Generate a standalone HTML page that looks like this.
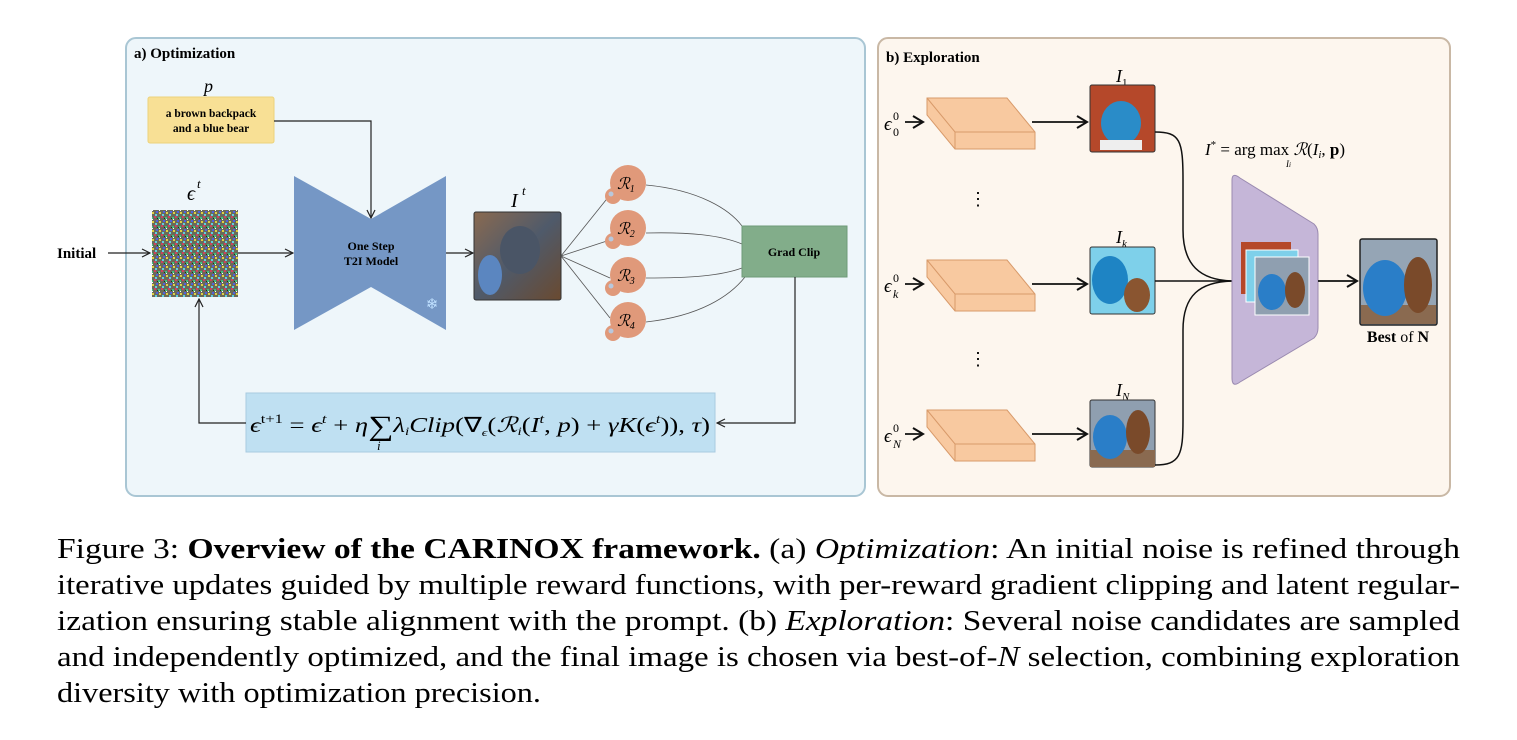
<!DOCTYPE html>
<html><head><meta charset="utf-8"><style>
body{margin:0;background:#fff;}
svg{display:block;}
text{font-family:"Liberation Serif",serif;}
</style></head><body>
<svg width="1517" height="740" viewBox="0 0 1517 740" xmlns="http://www.w3.org/2000/svg">
<defs>
<marker id="ar" markerWidth="10" markerHeight="10" refX="9" refY="5" orient="auto" markerUnits="userSpaceOnUse"><path d="M1,1 L9,5 L1,9" fill="none" stroke="#222" stroke-width="1.2"/></marker>
<marker id="ar2" markerWidth="14" markerHeight="14" refX="12" refY="7" orient="auto" markerUnits="userSpaceOnUse"><path d="M2,1 L12,7 L2,13" fill="none" stroke="#111" stroke-width="2"/></marker>
<pattern id="noise" width="7" height="9" patternUnits="userSpaceOnUse">
<rect width="7" height="9" fill="#6a6a5a"/><rect x="0" y="0" width="2" height="2" fill="#d04060"/><rect x="4" y="1" width="2" height="2" fill="#40c080"/><rect x="2" y="4" width="2" height="2" fill="#5060e0"/><rect x="5" y="5" width="2" height="2" fill="#e0d040"/><rect x="1" y="7" width="2" height="2" fill="#60d0e0"/><rect x="5" y="3" width="1" height="1" fill="#fff"/><rect x="3" y="2" width="1" height="1" fill="#222"/>
</pattern>
<linearGradient id="bear1" x1="0" y1="0" x2="1" y2="1"><stop offset="0" stop-color="#8a6a50"/><stop offset="0.5" stop-color="#4f5a6a"/><stop offset="1" stop-color="#6a4a30"/></linearGradient>
</defs>

<!-- Panel a -->
<rect x="126" y="38" width="739" height="458" rx="10" fill="#eef6fa" stroke="#a9c6d4" stroke-width="2"/>
<text x="134" y="58" font-size="15" font-weight="bold">a) Optimization</text>
<text x="204" y="92" font-size="18" font-style="italic">p</text>
<rect x="148" y="97" width="126" height="46" rx="2" fill="#f8e095" stroke="#ecd27a"/>
<text x="211" y="117" font-size="11.5" font-weight="bold" text-anchor="middle">a brown backpack</text>
<text x="211" y="132" font-size="11.5" font-weight="bold" text-anchor="middle">and a blue bear</text>
<path d="M274,121 H371 V218" fill="none" stroke="#222" stroke-width="1.2" marker-end="url(#ar)"/>
<text x="57" y="258" font-size="15" font-weight="bold">Initial</text>
<path d="M108,253 H150" stroke="#222" stroke-width="1.2" marker-end="url(#ar)"/>
<text x="187" y="200" font-size="20" font-style="italic">ϵ</text><text x="197" y="188" font-size="13" font-style="italic">t</text>
<rect x="152" y="210" width="86" height="87" fill="url(#noise)"/>
<path d="M238,253 H293" stroke="#222" stroke-width="1.2" marker-end="url(#ar)"/>
<path d="M294,176 L371,219 L446,176 L446,330 L371,287 L294,330 Z" fill="#7597c5"/>
<text x="371" y="250" font-size="12" font-weight="bold" text-anchor="middle">One Step</text>
<text x="371" y="265" font-size="12" font-weight="bold" text-anchor="middle">T2I Model</text>
<text x="432" y="309" font-size="15" fill="#bfe0ff" text-anchor="middle">❄</text>
<path d="M446,253 H473" stroke="#222" stroke-width="1.2" marker-end="url(#ar)"/>
<text x="511" y="207" font-size="20" font-style="italic">I</text><text x="522" y="195" font-size="13" font-style="italic">t</text>
<rect x="474" y="212" width="87" height="88" rx="2" fill="url(#bear1)" stroke="#333"/>
<ellipse cx="520" cy="250" rx="20" ry="24" fill="#4a5566"/>
<ellipse cx="490" cy="275" rx="12" ry="20" fill="#5b86c0"/>
<g stroke="#555" stroke-width="0.8" fill="none">
<path d="M561,256 L610,195"/><path d="M561,256 L610,240"/><path d="M561,256 L610,278"/><path d="M561,256 L610,318"/>
<path d="M646,185 C700,190 730,210 742,226"/><path d="M646,233 C690,232 720,235 742,244"/>
<path d="M646,278 C690,278 720,276 742,268"/><path d="M646,322 C700,316 730,296 745,277"/>
</g>
<g fill="#e0997a">
<circle cx="628" cy="183" r="18"/><circle cx="613" cy="196" r="8"/>
<circle cx="628" cy="228" r="18"/><circle cx="613" cy="241" r="8"/>
<circle cx="628" cy="275" r="18"/><circle cx="613" cy="288" r="8"/>
<circle cx="628" cy="320" r="18"/><circle cx="613" cy="333" r="8"/>
</g>
<g fill="#b8c8dd"><circle cx="611" cy="194" r="2.5"/><circle cx="611" cy="239" r="2.5"/><circle cx="611" cy="286" r="2.5"/><circle cx="611" cy="331" r="2.5"/></g>
<g font-size="16" font-style="italic" font-family="DejaVu Serif,serif">
<text x="617" y="189">ℛ<tspan font-size="10" dy="3">1</tspan></text>
<text x="617" y="234">ℛ<tspan font-size="10" dy="3">2</tspan></text>
<text x="617" y="281">ℛ<tspan font-size="10" dy="3">3</tspan></text>
<text x="617" y="326">ℛ<tspan font-size="10" dy="3">4</tspan></text>
</g>
<rect x="742" y="226" width="105" height="51" fill="#82ad8a" stroke="#6f9a78"/>
<text x="794" y="256" font-size="12" font-weight="bold" text-anchor="middle">Grad Clip</text>
<path d="M795,277 V423 H717" fill="none" stroke="#222" stroke-width="1.2" marker-end="url(#ar)"/>
<rect x="246" y="393" width="469" height="59" fill="#bfe0f2" stroke="#a8cbe0"/>
<text x="250" y="432" font-size="21" font-style="italic" textLength="460" lengthAdjust="spacingAndGlyphs">ϵ<tspan font-size="13" dy="-9" font-style="normal">t+1</tspan><tspan dy="9" font-style="normal"> = </tspan>ϵ<tspan font-size="13" dy="-9">t</tspan><tspan dy="9" font-style="normal"> + </tspan>η<tspan font-style="normal" font-size="28" dy="3">∑</tspan><tspan dy="-3">λ</tspan><tspan font-size="12" dy="3">i</tspan><tspan dy="-3">Clip</tspan><tspan font-style="normal">(∇</tspan><tspan font-size="11" dy="4">ϵ</tspan><tspan dy="-4" font-style="normal">(</tspan>ℛ<tspan font-size="12" dy="3">i</tspan><tspan dy="-3" font-style="normal">(</tspan>I<tspan font-size="13" dy="-9">t</tspan><tspan dy="9" font-style="normal">, </tspan>p<tspan font-style="normal">) + </tspan>γK<tspan font-style="normal">(</tspan>ϵ<tspan font-size="13" dy="-9">t</tspan><tspan dy="9" font-style="normal">)), </tspan>τ<tspan font-style="normal">)</tspan></text>
<text x="377" y="450" font-size="13" font-style="italic">i</text>
<path d="M246,423 H199 V299" fill="none" stroke="#222" stroke-width="1.2" marker-end="url(#ar)"/>

<!-- Panel b -->
<rect x="878" y="38" width="572" height="458" rx="10" fill="#fdf6ee" stroke="#c9b8a5" stroke-width="2"/>
<text x="886" y="62" font-size="15" font-weight="bold">b) Exploration</text>
<g fill="#f8c9a0" stroke="#d89a6a" stroke-width="1">
<path d="M927,98 L1007,98 L1035,132 L1035,149 L955,149 L927,115 Z"/><path d="M927,98 L955,132 L1035,132" fill="none"/><path d="M955,132 V149" fill="none"/>
<path d="M927,260 L1007,260 L1035,294 L1035,311 L955,311 L927,277 Z"/><path d="M927,260 L955,294 L1035,294" fill="none"/><path d="M955,294 V311" fill="none"/>
<path d="M927,410 L1007,410 L1035,444 L1035,461 L955,461 L927,427 Z"/><path d="M927,410 L955,444 L1035,444" fill="none"/><path d="M955,444 V461" fill="none"/>
</g>
<g font-size="19" font-style="italic">
<text x="884" y="130">ϵ</text><text x="893" y="120" font-size="12" font-style="normal">0</text><text x="893" y="136" font-size="12" font-style="normal">0</text>
<text x="884" y="292">ϵ</text><text x="893" y="282" font-size="12" font-style="normal">0</text><text x="893" y="298" font-size="12">k</text>
<text x="884" y="442">ϵ</text><text x="893" y="432" font-size="12" font-style="normal">0</text><text x="893" y="448" font-size="12">N</text>
</g>
<g stroke="#111" stroke-width="1.8" fill="none">
<path d="M905,122 H923" marker-end="url(#ar2)"/><path d="M905,284 H923" marker-end="url(#ar2)"/><path d="M905,434 H923" marker-end="url(#ar2)"/>
<path d="M1032,122 H1087" marker-end="url(#ar2)"/><path d="M1032,284 H1087" marker-end="url(#ar2)"/><path d="M1032,434 H1087" marker-end="url(#ar2)"/>
</g>
<text x="978" y="205" font-size="18" text-anchor="middle">⋮</text>
<text x="978" y="365" font-size="18" text-anchor="middle">⋮</text>
<g font-size="18" font-style="italic"><text x="1116" y="82">I<tspan font-size="11" dy="4" font-style="normal">1</tspan></text><text x="1116" y="243">I<tspan font-size="11" dy="4">k</tspan></text><text x="1116" y="396">I<tspan font-size="11" dy="4">N</tspan></text></g>
<rect x="1090" y="85" width="65" height="67" rx="2" fill="#b5482a" stroke="#333"/>
<ellipse cx="1121" cy="123" rx="20" ry="22" fill="#2a8cc8"/><rect x="1100" y="140" width="42" height="10" fill="#eee"/>
<rect x="1090" y="247" width="65" height="67" rx="2" fill="#7ed0ea" stroke="#333"/>
<ellipse cx="1110" cy="280" rx="18" ry="24" fill="#1e84c4"/><ellipse cx="1137" cy="295" rx="13" ry="17" fill="#8a5530"/>
<rect x="1090" y="400" width="65" height="67" rx="2" fill="#8f9fb0" stroke="#333"/>
<rect x="1090" y="450" width="65" height="17" fill="#8a6a50"/><ellipse cx="1110" cy="437" rx="17" ry="22" fill="#2a7ec8"/><ellipse cx="1138" cy="432" rx="12" ry="22" fill="#7a4a2a"/>
<g stroke="#111" stroke-width="1.5" fill="none">
<path d="M1155,132 C1180,132 1183,140 1183,180 V230 C1183,265 1200,280 1232,281"/>
<path d="M1155,281 H1232"/>
<path d="M1155,465 C1180,465 1183,455 1183,420 V330 C1183,295 1200,282 1232,281"/>
</g>
<text x="1205" y="155" font-size="17" font-style="italic">I<tspan font-size="11" dy="-7" font-style="normal">*</tspan><tspan dy="7" font-style="normal"> = arg max </tspan>ℛ<tspan font-style="normal">(</tspan>I<tspan font-size="11" dy="3">i</tspan><tspan dy="-3" font-style="normal">, </tspan><tspan font-weight="bold" font-style="normal">p</tspan><tspan font-style="normal">)</tspan></text>
<text x="1286" y="167" font-size="9" font-style="italic">I<tspan font-size="7">i</tspan></text>
<path d="M1232,180 Q1232,172 1240,178 L1314,224 Q1318,228 1318,234 L1318,328 Q1318,334 1314,338 L1240,382 Q1232,388 1232,378 Z" fill="#c5b6d8" stroke="#9a8ab0"/>
<rect x="1241" y="242" width="50" height="52" fill="#b5482a"/>
<rect x="1246" y="250" width="52" height="52" fill="#7ed0ea" stroke="#fff"/>
<rect x="1255" y="257" width="54" height="58" fill="#8f9fb0" stroke="#fff"/>
<ellipse cx="1272" cy="292" rx="14" ry="18" fill="#2a7ec8"/><ellipse cx="1295" cy="290" rx="10" ry="18" fill="#7a4a2a"/>
<path d="M1318,281 H1357" stroke="#111" stroke-width="1.8" marker-end="url(#ar2)"/>
<rect x="1360" y="239" width="77" height="86" rx="2" fill="#95a5b5" stroke="#222" stroke-width="1.5"/>
<rect x="1361" y="305" width="75" height="19" fill="#8a6a50"/>
<ellipse cx="1385" cy="288" rx="22" ry="28" fill="#2a7ec8"/><ellipse cx="1418" cy="285" rx="14" ry="28" fill="#7a4a2a"/>
<text x="1398" y="342" font-size="16" text-anchor="middle"><tspan font-weight="bold">Best</tspan> of <tspan font-weight="bold">N</tspan></text>

<!-- caption -->
<g font-size="28">
<text x="57" y="558" textLength="1403" lengthAdjust="spacingAndGlyphs">Figure 3: <tspan font-weight="bold">Overview of the CARINOX framework.</tspan> (a) <tspan font-style="italic">Optimization</tspan>: An initial noise is refined through</text>
<text x="57" y="594" textLength="1403" lengthAdjust="spacingAndGlyphs">iterative updates guided by multiple reward functions, with per-reward gradient clipping and latent regular-</text>
<text x="57" y="630" textLength="1403" lengthAdjust="spacingAndGlyphs">ization ensuring stable alignment with the prompt. (b) <tspan font-style="italic">Exploration</tspan>: Several noise candidates are sampled</text>
<text x="57" y="666" textLength="1403" lengthAdjust="spacingAndGlyphs">and independently optimized, and the final image is chosen via best-of-<tspan font-style="italic">N</tspan> selection, combining exploration</text>
<text x="57" y="702" textLength="484" lengthAdjust="spacingAndGlyphs">diversity with optimization precision.</text>
</g>
</svg>
</body></html>
